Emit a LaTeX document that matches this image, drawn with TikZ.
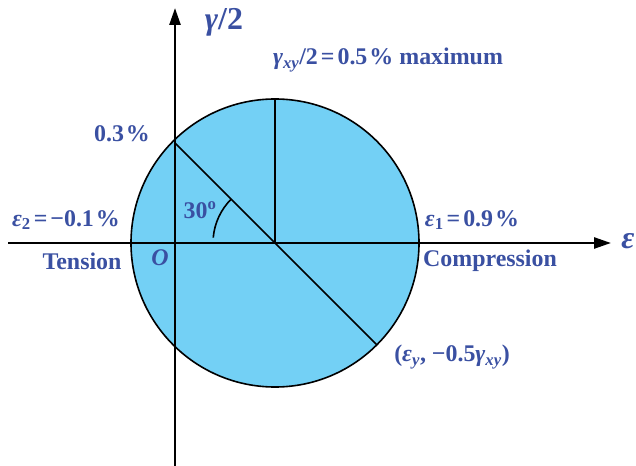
\documentclass[tikz,border=0pt]{standalone}
\usepackage{fontspec}
\setmainfont{Liberation Serif}
\usetikzlibrary{arrows.meta, calc}

\definecolor{labelblue}{RGB}{58,80,162}
\definecolor{circfill}{RGB}{115,208,245}

\begin{document}
\begin{tikzpicture}[
    x=1bp, y=-1bp,
    >={Triangle[length=17bp, width=11bp]},
    lbl/.style={text=labelblue, inner sep=0pt,
                font=\bfseries\fontsize{24}{26}\selectfont},
    big/.style={text=labelblue, inner sep=0pt,
                font=\bfseries\fontsize{32}{34}\selectfont},
    axis/.style={draw=black, line width=2.5bp, ->},
    thin/.style={draw=black, line width=1.6bp},
]
    \useasboundingbox (0,0) rectangle (636,466);

    % Mohr circle
    \coordinate (C) at (275,243);
    \coordinate (P) at (175,143);
    \coordinate (Q) at (377,345);
    \coordinate (T) at (275,99);
    \fill[circfill] (C) circle[radius=144bp];
    \draw[thin] (C) circle[radius=144bp];
    \draw[thin] (P) -- (Q);
    \draw[thin] (C) -- (T);
    \draw[thin] ($(C)+(175:62bp)$) arc[start angle=175, end angle=135, radius=62bp];

    % Axes
    \coordinate (xl) at (8,243);
    \coordinate (xr) at (611,243);
    \coordinate (yb) at (175,466);
    \coordinate (yt) at (175,8);
    \draw[axis] (xl) -- (xr);
    \draw[axis] (yb) -- (yt);

    % Labels
    \node[big] (gam) at (224,22) {\textit{γ}/2};
    \node[big] (eps) at (628,241) {\textit{ε}};
    \node[lbl] (max) at (388,60) {\textit{γ}\textsubscript{\textit{xy}}/2\kern3bp=\kern3bp0.5\kern2bp\% maximum};
    \node[lbl] (pt3) at (122,134) {0.3\kern2bp\%};
    \node[lbl] (e2) at (66,220) {\textit{ε}\textsubscript{2}\kern3bp=\kern3bp−0.1\kern2bp\%};
    \node[lbl] (ten) at (82,261) {Tension};
    \node[lbl] (orig) at (160,258) {\textit{O}};
    \node[lbl] (ang) at (200,210) {30\textsuperscript{o}};
    \node[lbl] (e1) at (472,220) {\textit{ε}\textsubscript{1}\kern3bp=\kern3bp0.9\kern2bp\%};
    \node[lbl] (comp) at (490,261) {Compression};
    \node[lbl] (pnt) at (452,357) {(\textit{ε}\textsubscript{\textit{y}}, −0.5\textit{γ}\textsubscript{\textit{xy}})};
\end{tikzpicture}
\end{document}
